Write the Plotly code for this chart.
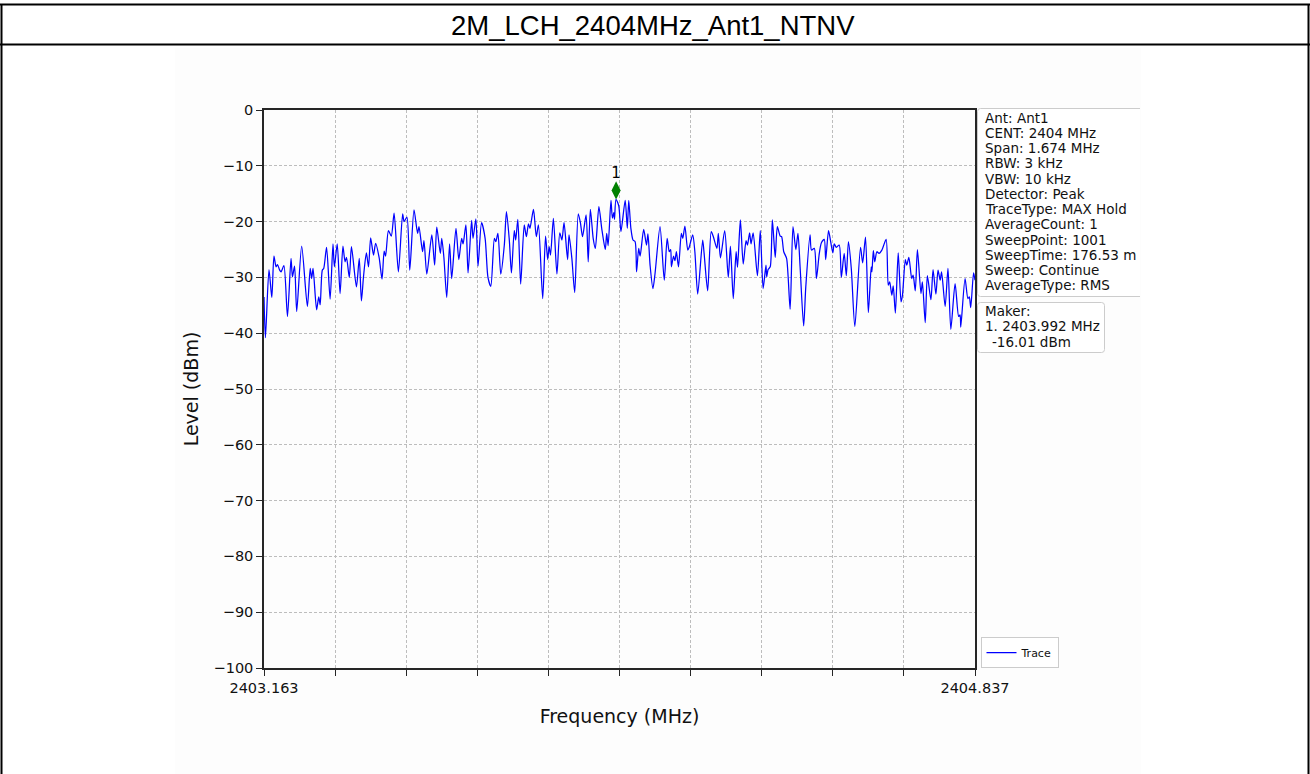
import plotly.graph_objects as go

# ---- sweep settings -------------------------------------------------------
START_MHZ = 2403.163
STOP_MHZ = 2404.837
SWEEP_POINTS = 1001

# ---- trace: sweep point index and measured level (dBm) ---------------------
SWEEP_INDEX = [
    0, 2, 7, 11, 14, 17, 19, 22, 24, 28, 33, 38, 40, 43, 46, 53, 61, 65, 67, 69,
    74, 77, 79, 82, 84, 88, 93, 97, 99, 103, 107, 111, 114, 116, 120, 123, 130, 134, 137, 140,
    144, 147, 150, 154, 157, 162,
    166, 169, 171, 175, 179, 183, 189, 195, 197, 201, 205, 211, 216, 218, 223, 225, 229, 236, 240, 243,
    248, 250, 253, 257, 261, 264, 270, 274, 278, 280, 284, 287, 292, 294, 298, 301, 306, 311, 315, 319,
    324, 326, 329, 333, 338, 341, 345, 348, 352, 354, 357, 361, 366, 369, 372, 374, 379, 383, 386, 392,
    396, 399, 401, 403, 407, 412, 416, 419, 422, 427, 429, 433, 437, 442, 445, 448, 453, 456, 459, 463,
    466, 471, 475, 480, 482, 484,
    488, 490, 492, 493, 495, 499, 502, 508, 511, 513, 516, 519, 522, 524, 527, 529, 534, 538, 540, 543,
    547, 550, 557, 563, 567, 570, 572, 573, 576, 578, 580, 583, 587, 589, 592, 596, 598, 603, 606, 610,
    617, 619, 624, 629, 632, 637, 639, 642,
    648, 653, 656, 660, 664, 666, 670, 674, 678, 680, 683, 685, 688, 694, 698, 702, 706, 707, 709, 712,
    715, 719, 722, 726, 728, 731, 735, 740, 744, 748, 751, 754, 759, 762, 768, 770, 774, 777, 781, 784,
    788, 790, 794, 797, 800, 802, 805, 809,
    812, 816, 819, 822, 826, 831, 839, 842, 846, 850, 854, 855, 857, 859, 862, 865, 869, 875, 878, 880,
    883, 885, 888, 892, 896, 898, 902, 904, 907, 911, 913, 916, 919, 924, 926, 930, 933, 938, 941, 945,
    948, 951, 953, 958, 962, 966, 972, 977, 979, 980, 986, 990, 992, 994, 998, 1000,
]
LEVEL_DBM = [
    -33.5, -40.8, -28.6, -33.6, -26.2, -28.1, -27.7, -28.7, -29.0, -27.9, -37.0, -26.6, -29.9, -28.0, -36.1, -24.4, -35.2, -28.4, -30.2, -28.4,
    -35.8, -33.5, -34.9, -28.7, -28.4, -24.6, -33.9, -24.0, -28.1, -24.0, -32.9, -24.4, -27.2, -26.4, -30.0, -24.5, -31.7, -26.6, -34.2, -29.8,
    -25.6, -28.1, -22.9, -26.0, -23.9, -26.5,
    -30.3, -25.3, -26.2, -21.6, -22.6, -18.5, -29.0, -18.6, -20.0, -19.2, -28.7, -17.9, -22.1, -20.9, -25.4, -23.4, -29.4, -22.4, -27.8, -21.0,
    -25.7, -23.0, -26.4, -33.6, -24.0, -30.2, -21.2, -26.8, -23.0, -24.0, -20.6, -29.2, -19.8, -23.0, -19.5, -28.0, -20.2, -23.0, -30.0, -31.6,
    -23.0, -23.6, -22.1, -29.4, -24.2, -18.2, -23.3, -29.2, -21.6, -23.3, -19.6, -31.2, -20.6, -22.7, -20.4, -21.2, -17.8, -22.7, -20.6, -33.8,
    -22.6, -26.8, -24.5, -26.0, -19.4, -29.4, -22.0, -23.3, -20.2, -26.8, -22.4, -26.6, -32.7, -18.6, -20.2, -22.7, -18.8, -27.2, -17.8, -23.0,
    -24.8, -17.3, -21.2, -25.0, -22.1, -24.3,
    -16.2, -19.4, -18.4, -19.6, -16.01, -17.2, -21.8, -16.2, -21.2, -16.2, -21.2, -23.3, -23.6, -29.0, -24.8, -26.2, -21.4, -24.2, -22.2, -27.8,
    -32.0, -29.3, -20.9, -30.5, -23.0, -25.4, -25.0, -28.1, -26.2, -27.0, -25.4, -28.1, -22.1, -23.0, -20.8, -25.1, -24.6, -22.4, -25.4, -33.0,
    -23.3, -25.7, -32.4, -21.8, -22.7, -24.8, -22.1, -26.5,
    -21.6, -30.0, -24.4, -33.8, -25.4, -28.2, -19.7, -27.6, -23.4, -24.2, -22.0, -24.0, -22.0, -29.7, -21.6, -32.0, -27.8, -29.9, -28.6, -28.1,
    -19.7, -26.4, -20.9, -22.6, -22.7, -25.4, -26.6, -35.7, -20.9, -25.0, -22.1, -28.1, -38.7, -31.7, -22.4, -25.1, -24.8, -30.2, -25.7, -23.8,
    -23.2, -26.8, -21.6, -23.6, -25.6, -24.0, -24.6, -24.2,
    -30.0, -25.7, -29.7, -23.6, -28.4, -38.8, -24.6, -27.4, -22.8, -36.3, -28.1, -29.0, -25.2, -27.2, -25.4, -25.7, -25.1, -23.2, -31.4, -30.8,
    -33.2, -31.5, -36.4, -25.6, -34.4, -33.2, -26.8, -27.8, -26.4, -30.2, -29.6, -32.4, -25.0, -32.9, -30.8, -38.1, -29.7, -34.0, -28.6, -33.0,
    -28.7, -30.5, -29.0, -35.2, -28.4, -39.3, -31.1, -37.0, -36.7, -38.9, -30.2, -33.8, -33.5, -35.4, -29.2, -30.5,
]

# ---- marker 1 -------------------------------------------------------------
MARKER_FREQ_MHZ = 2403.992
MARKER_LEVEL_DBM = -16.01

# ---- axes -----------------------------------------------------------------
Y_TICKS = [0, -10, -20, -30, -40, -50, -60, -70, -80, -90, -100]
Y_TICK_TEXT = ["0", "−10", "−20", "−30", "−40", "−50", "−60", "−70", "−80", "−90", "−100"]
X_DIVISIONS = 10
X_TICK_TEXT = ["2403.163", "", "", "", "", "", "", "", "", "", "2404.837"]

TITLE = "2M_LCH_2404MHz_Ant1_NTNV"
INFO_LINES = [
    "Ant: Ant1",
    "CENT: 2404 MHz",
    "Span: 1.674 MHz",
    "RBW: 3 kHz",
    "VBW: 10 kHz",
    "Detector: Peak",
    "TraceType: MAX Hold",
    "AverageCount: 1",
    "SweepPoint: 1001",
    "SweepTime: 176.53 m",
    "Sweep: Continue",
    "AverageType: RMS",
]

# ---- page geometry (pixels) ----------------------------------------------
W, H = 1310, 774
PLOT_L, PLOT_R, PLOT_T, PLOT_B = 264, 975, 110, 668
FONT = "DejaVu Sans"
TEXT_COLOR = "#111111"
CANVAS = "#fdfdfd"
MARKER_LIFT_DB = 1.6


def xp(px):
    return (px - PLOT_L) / (PLOT_R - PLOT_L)


def yp(py):
    return (PLOT_B - py) / (PLOT_B - PLOT_T)


step = (STOP_MHZ - START_MHZ) / (SWEEP_POINTS - 1)
freqs = [START_MHZ + i * step for i in SWEEP_INDEX]
x_ticks = [START_MHZ + k * (STOP_MHZ - START_MHZ) / X_DIVISIONS for k in range(X_DIVISIONS + 1)]

fig = go.Figure()
fig.add_trace(go.Scatter(
    x=freqs, y=LEVEL_DBM, mode="lines", name="Trace",
    line=dict(color="#0000ff", width=1.25, shape="spline", smoothing=0.7),
    hoverinfo="skip",
))
fig.add_trace(go.Scatter(
    x=[MARKER_FREQ_MHZ], y=[MARKER_LEVEL_DBM + MARKER_LIFT_DB],
    mode="markers+text", text=["1"], textposition="top center",
    textfont=dict(family=FONT, size=15, color="#000000"),
    marker=dict(symbol="diamond-tall", size=13, color="#008000",
                line=dict(color="#008000", width=0)),
    showlegend=False, hoverinfo="skip",
))

shapes = [
    # light figure canvas behind the chart
    dict(type="rect", xref="paper", yref="paper", layer="below",
         x0=xp(175), x1=xp(1141), y0=yp(48), y1=yp(H + 2),
         fillcolor=CANVAS, line=dict(width=0)),
    # table frame around title and chart
    dict(type="line", xref="paper", yref="paper", x0=xp(0), x1=xp(W), y0=yp(4.5), y1=yp(4.5),
         line=dict(color="#000000", width=2)),
    dict(type="line", xref="paper", yref="paper", x0=xp(0), x1=xp(W), y0=yp(44.5), y1=yp(44.5),
         line=dict(color="#000000", width=2)),
    dict(type="line", xref="paper", yref="paper", x0=xp(1.5), x1=xp(1.5), y0=yp(4), y1=yp(H + 2),
         line=dict(color="#000000", width=2)),
    dict(type="line", xref="paper", yref="paper", x0=xp(1308.5), x1=xp(1308.5), y0=yp(4), y1=yp(H + 2),
         line=dict(color="#000000", width=2)),
]


def rounded_box(x0, y0, x1, y1, r, open_right=False):
    p = [f"M {xp(x1 if open_right else x1 - r)},{yp(y0)}",
         f"L {xp(x0 + r)},{yp(y0)}",
         f"Q {xp(x0)},{yp(y0)} {xp(x0)},{yp(y0 + r)}",
         f"L {xp(x0)},{yp(y1 - r)}",
         f"Q {xp(x0)},{yp(y1)} {xp(x0 + r)},{yp(y1)}"]
    if open_right:
        p.append(f"L {xp(x1)},{yp(y1)}")
    else:
        p += [f"L {xp(x1 - r)},{yp(y1)}",
              f"Q {xp(x1)},{yp(y1)} {xp(x1)},{yp(y1 - r)}",
              f"L {xp(x1)},{yp(y0 + r)}",
              f"Q {xp(x1)},{yp(y0)} {xp(x1 - r)},{yp(y0)}", "Z"]
    return " ".join(p)


shapes.append(dict(type="path", xref="paper", yref="paper",
                   path=rounded_box(977.5, 108.5, 1140, 296.5, 3, open_right=True),
                   fillcolor="rgba(255,255,255,0.85)", line=dict(color="#cccccc", width=1)))
shapes.append(dict(type="path", xref="paper", yref="paper",
                   path=rounded_box(977.5, 302.5, 1104.5, 352.5, 3),
                   fillcolor="rgba(255,255,255,0.85)", line=dict(color="#cccccc", width=1)))

annotations = [dict(text=TITLE, xref="paper", yref="paper", x=xp(653), y=yp(25),
                    xanchor="center", yanchor="middle", showarrow=False,
                    font=dict(family="Liberation Sans", size=27.5, color="#000000"))]

LINE_STEP = 15.25
for k, line in enumerate(INFO_LINES):
    annotations.append(dict(text=line, xref="paper", yref="paper",
                            x=xp(982.5), y=yp(117.5 + k * LINE_STEP),
                            xanchor="left", yanchor="middle", showarrow=False,
                            font=dict(family=FONT, size=13.5, color=TEXT_COLOR)))

marker_lines = [("Maker:", 982.5),
                (f"1. {MARKER_FREQ_MHZ:.3f} MHz", 982.5),
                (f"{MARKER_LEVEL_DBM:.2f} dBm", 990)]
for k, (line, px) in enumerate(marker_lines):
    annotations.append(dict(text=line, xref="paper", yref="paper",
                            x=xp(px), y=yp(311 + k * LINE_STEP),
                            xanchor="left", yanchor="middle", showarrow=False,
                            font=dict(family=FONT, size=13.5, color=TEXT_COLOR)))

axis_common = dict(
    showline=True, linecolor="#262626", linewidth=1.5, mirror=True,
    ticks="outside", ticklen=6, tickwidth=1.2, tickcolor="#262626",
    showgrid=True, gridcolor="#bdbdbd", gridwidth=0.8, griddash="3px,2px",
    zeroline=False,
    tickfont=dict(family=FONT, size=14.5, color=TEXT_COLOR),
)

fig.update_layout(
    width=W, height=H, autosize=False,
    margin=dict(l=PLOT_L, r=W - PLOT_R, t=PLOT_T, b=H - PLOT_B, pad=0),
    paper_bgcolor="#ffffff", plot_bgcolor=CANVAS,
    showlegend=True,
    legend=dict(x=xp(980.5), y=yp(668), xanchor="left", yanchor="bottom",
                bgcolor="rgba(255,255,255,0.9)", bordercolor="#cccccc", borderwidth=1,
                font=dict(family=FONT, size=11, color=TEXT_COLOR),
                itemwidth=30, tracegroupgap=0),
    xaxis=dict(range=[START_MHZ, STOP_MHZ], tickvals=x_ticks, ticktext=X_TICK_TEXT,
               title=dict(text="Frequency (MHz)", standoff=15,
                          font=dict(family=FONT, size=19, color=TEXT_COLOR)),
               **axis_common),
    yaxis=dict(range=[-100, 0], tickvals=Y_TICKS, ticktext=Y_TICK_TEXT,
               title=dict(text="Level (dBm)", standoff=10,
                          font=dict(family=FONT, size=19, color=TEXT_COLOR)),
               **axis_common),
    shapes=shapes,
    annotations=annotations,
)

fig.write_html("out.html")
